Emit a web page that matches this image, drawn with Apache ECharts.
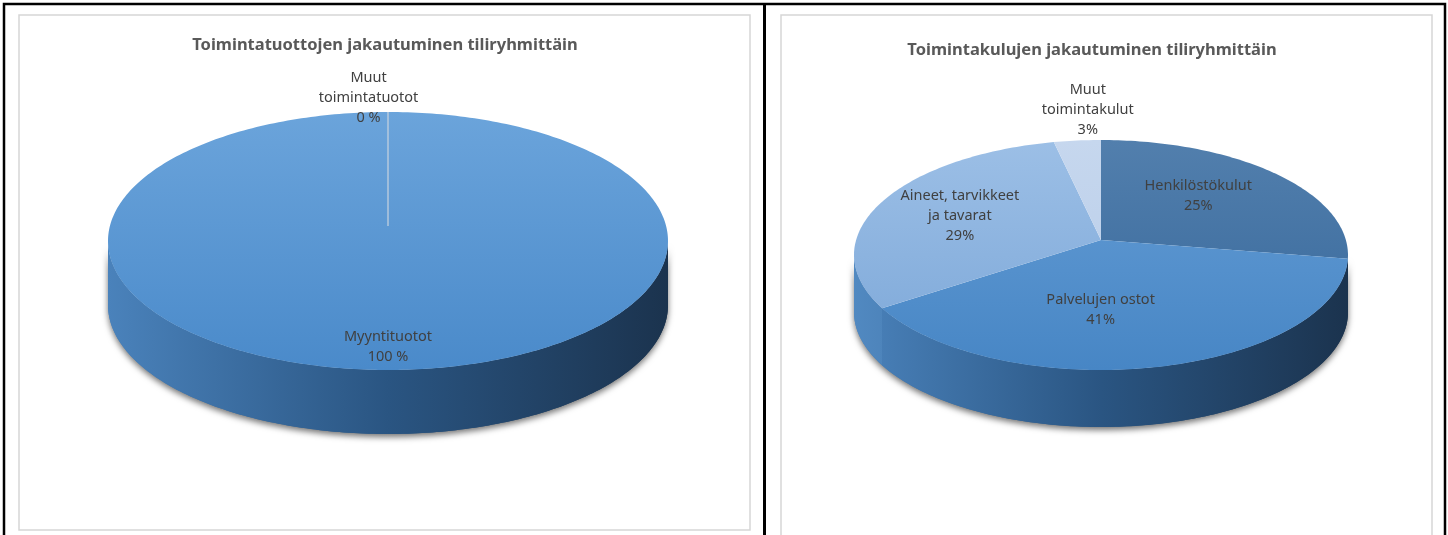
<!DOCTYPE html>
<html>
<head>
<meta charset="utf-8">
<script src="https://cdn.jsdelivr.net/npm/echarts@6/dist/echarts.min.js"></script>
<style>
  html, body { margin: 0; padding: 0; background: #fff; }
  #main { width: 1448px; height: 535px; }
</style>
</head>
<body>
<div id="main"></div>
<script>
// Toimintatuotot (%)
const tuototNames = ['Myyntituotot', 'Muut\ntoimintatuotot'];
const tuototValues = [100, 0];

// Toimintakulut (%)
const kulutNames = ['Henkilöstökulut', 'Palvelujen ostot', 'Aineet, tarvikkeet\nja tavarat', 'Muut\ntoimintakulut'];
const kulutValues = [25, 41, 29, 3];

const chart = echarts.init(document.getElementById('main'));
const LabelFont = "14.5px 'Noto Sans'";
const TitleFont = "bold 16.5px 'Noto Sans'";

// 3D-tyylinen piirakka custom-sarjana: yläpinta + etureuna
function pie3d(values, names, suffix, geo, look) {
  const total = values.reduce((a, b) => a + b, 0);
  const starts = [];
  let acc = 0;
  values.forEach(v => { starts.push(acc / total * 360); acc += v; });

  const rad = d => d * Math.PI / 180;
  const pt = (a, dy) => [geo.cx + geo.rx * Math.sin(rad(a)), geo.cy - geo.ry * Math.cos(rad(a)) + (dy || 0)];
  const arc = (a0, a1, dy) => {
    const n = Math.max(2, Math.ceil(a1 - a0));
    const out = [];
    for (let k = 0; k <= n; k++) out.push(pt(a0 + (a1 - a0) * k / n, dy));
    return out;
  };
  const edge = (a, b) => arc(a, b, 0).concat(arc(a, b, geo.depth).reverse());
  const sideFill = c => new echarts.graphic.LinearGradient(geo.cx - geo.rx, 0, geo.cx + geo.rx, 0, [
    { offset: 0, color: c[0] },
    { offset: 0.5, color: c[1] },
    { offset: 1, color: c[2] }
  ], true);
  const vx = geo.cx, vy = geo.cy - geo.lift;

  return {
    type: 'custom',
    coordinateSystem: 'none',
    silent: true,
    data: values,
    renderItem(params, api) {
      const i = params.dataIndex;
      const v = api.value(0);
      const a0 = starts[i];
      const a1 = a0 + v / total * 360;
      const children = [];

      // varjo koko etureunan alle kerran
      if (i === 0) {
        children.push({
          type: 'polygon', z2: 0,
          shape: { points: edge(90, 270) },
          style: { fill: sideFill(look.side[0]), shadowBlur: 6, shadowColor: 'rgba(0,0,0,0.55)', shadowOffsetY: 3 }
        });
      }

      // etureuna (näkyy vain kulmilla 90..270)
      const s = Math.max(a0, 90), e = Math.min(a1, 270);
      if (e > s) {
        children.push({
          type: 'polygon', z2: 1,
          shape: { points: edge(s, e) },
          style: { fill: sideFill(look.side[i]) }
        });
      }

      // yläpinta
      if (a1 - a0 < 0.05) {
        const p = pt(a0);
        children.push({
          type: 'line', z2: 6,
          shape: { x1: vx, y1: vy, x2: p[0], y2: p[1] },
          style: { stroke: '#c9d4df', lineWidth: 1.2 }
        });
      } else {
        children.push({
          type: 'polygon', z2: 5,
          shape: { points: [[vx, vy]].concat(arc(a0, a1, 0)) },
          style: {
            fill: new echarts.graphic.LinearGradient(0, geo.cy - geo.ry, 0, geo.cy + geo.ry, [
              { offset: 0, color: look.top[i][0] },
              { offset: 1, color: look.top[i][1] }
            ], true)
          }
        });
      }

      // arvon selite
      const mid = (a0 + a1) / 2 + look.turn[i];
      const k = look.labelR[i];
      children.push({
        type: 'text', z2: 10,
        style: {
          text: names[i] + '\n' + v + suffix,
          x: vx + k * geo.rx * Math.sin(rad(mid)),
          y: vy - k * geo.ry * Math.cos(rad(mid)),
          align: 'center',
          verticalAlign: 'middle',
          lineHeight: 20,
          font: LabelFont,
          fill: '#404040'
        }
      });
      return { type: 'group', children };
    }
  };
}

const option = {
  backgroundColor: '#fff',
  animation: false,
  graphic: [
    { type: 'rect', shape: { x: 19, y: 15, width: 731, height: 515 }, style: { fill: '#fff', stroke: '#d6d6d6', lineWidth: 1.5 }, z: -10 },
    { type: 'rect', shape: { x: 781, y: 15, width: 651, height: 540 }, style: { fill: '#fff', stroke: '#d6d6d6', lineWidth: 1.5 }, z: -10 },
    { type: 'rect', shape: { x: 4, y: 4, width: 1441, height: 560 }, style: { fill: 'none', stroke: '#000', lineWidth: 2.5 }, z: -5 },
    { type: 'line', shape: { x1: 764.5, y1: 4, x2: 764.5, y2: 540 }, style: { stroke: '#000', lineWidth: 3 }, z: -5 },
    { type: 'text', style: { text: 'Toimintatuottojen jakautuminen tiliryhmittäin', x: 385, y: 45, align: 'center', verticalAlign: 'middle', font: TitleFont, fill: '#595959' } },
    { type: 'text', style: { text: 'Toimintakulujen jakautuminen tiliryhmittäin', x: 1092, y: 50, align: 'center', verticalAlign: 'middle', font: TitleFont, fill: '#595959' } }
  ],
  series: [
    pie3d(tuototValues, tuototNames, ' %',
      { cx: 388, cy: 241, rx: 280, ry: 129, lift: 15, depth: 64 },
      {
        top: [['#6ba4db', '#4a8aca'], ['#6ba4db', '#4a8aca']],
        side: [['#4a82bb', '#2a5582', '#1b334e'], ['#4a82bb', '#2a5582', '#1b334e']],
        labelR: [0.94, 0.995],
        turn: [0, -4]
      }),
    pie3d(kulutValues, kulutNames, '%',
      { cx: 1101, cy: 255, rx: 247, ry: 115, lift: 15, depth: 57 },
      {
        top: [['#527fad', '#36679a'], ['#659dd5', '#4786c5'], ['#9cbfe6', '#7ca7d8'], ['#c6d7ee', '#b6cbe8']],
        side: [['#4a82bb', '#2a5582', '#1b334e'], ['#4a82bb', '#2a5582', '#1b334e'], ['#5189c1', '#335f8e', '#22405f'], ['#5189c1', '#335f8e', '#22405f']],
        labelR: [0.548, 0.61, 0.608, 1.131],
        turn: [0, 13, -5.7, 2.8]
      })
  ]
};
chart.setOption(option);
</script>
</body>
</html>
